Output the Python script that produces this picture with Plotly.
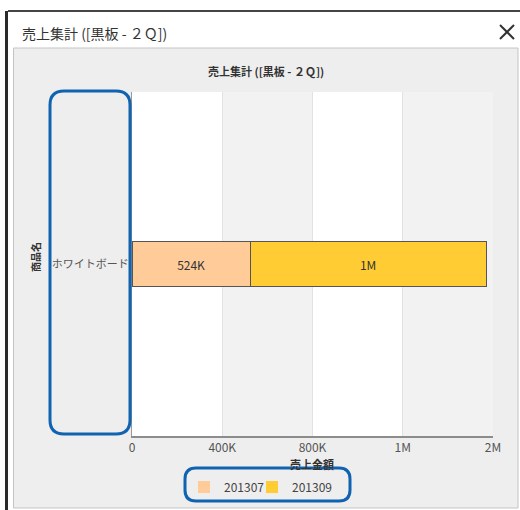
import plotly.graph_objects as go

# data
products = ["ホワイトボード"]
periods = ["201307", "201309"]
sales_201307 = [524000]
sales_201309 = [1045000]
x_tickvals = [0, 400000, 800000, 1200000, 1600000]
x_ticktext = ["0", "400K", "800K", "1M", "2M"]

TITLE = "売上集計 ([黒板 - ２Ｑ])"
FONT = "Noto Sans CJK JP, Noto Sans, sans-serif"
COLORS = {"201307": "#FFCC99", "201309": "#FFCC33"}
BLUE = "#1063B0"

W, H = 520, 510


def fx(x):
    return x / W


def fy(y):
    return 1 - y / H


def short(v):
    if v >= 1_000_000:
        return f"{v / 1_000_000:.0f}M"
    if v >= 1000:
        return f"{v / 1000:.0f}K"
    return str(v)


def rrect(x0, y0, x1, y1, r):
    pts = [
        ("M", [(x0 + r, y0)]),
        ("L", [(x1 - r, y0)]),
        ("Q", [(x1, y0), (x1, y0 + r)]),
        ("L", [(x1, y1 - r)]),
        ("Q", [(x1, y1), (x1 - r, y1)]),
        ("L", [(x0 + r, y1)]),
        ("Q", [(x0, y1), (x0, y1 - r)]),
        ("L", [(x0, y0 + r)]),
        ("Q", [(x0, y0), (x0 + r, y0)]),
    ]
    out = []
    for cmd, ps in pts:
        out.append(cmd + " ".join(f"{fx(a):.5f},{fy(b):.5f}" for a, b in ps))
    return " ".join(out) + " Z"


fig = go.Figure()
legend_ids = ["legend", "legend2"]
for name, vals, lg in zip(periods, [sales_201307, sales_201309], legend_ids):
    fig.add_trace(
        go.Bar(
            y=products,
            x=vals,
            orientation="h",
            name=name,
            width=0.128,
            marker={"color": COLORS[name], "line": {"color": "#555555", "width": 1}},
            text=[short(v) for v in vals],
            textposition="inside",
            insidetextanchor="middle",
            textfont={"color": "#333333", "size": 12},
            showlegend=False,
        )
    )
    # legend entries without outline
    fig.add_trace(
        go.Bar(y=[None], x=[None], orientation="h", name=name, legend=lg,
               marker={"color": COLORS[name], "line": {"width": 0}})
    )

shapes = [
    # page behind the dialog
    {"type": "rect", "xref": "paper", "yref": "paper", "x0": fx(5), "x1": fx(8),
     "y0": fy(510), "y1": fy(11), "fillcolor": "#2a2a2a", "line": {"width": 0}, "layer": "below"},
    {"type": "rect", "xref": "paper", "yref": "paper", "x0": fx(8), "x1": fx(520),
     "y0": fy(12), "y1": fy(10), "fillcolor": "#444444", "line": {"width": 0}, "layer": "below"},
    # content panel
    {"type": "rect", "xref": "paper", "yref": "paper", "x0": fx(13.5), "x1": fx(518),
     "y0": fy(508), "y1": fy(48), "fillcolor": "#EEEEEE",
     "line": {"color": "#C4C4C4", "width": 1}, "layer": "below"},
    # close button
    {"type": "line", "xref": "paper", "yref": "paper", "x0": fx(500), "y0": fy(25),
     "x1": fx(514), "y1": fy(39), "line": {"color": "#333333", "width": 2}},
    {"type": "line", "xref": "paper", "yref": "paper", "x0": fx(514), "y0": fy(25),
     "x1": fx(500), "y1": fy(39), "line": {"color": "#333333", "width": 2}},
]
# alternating bands between ticks
for i in range(len(x_tickvals) - 1):
    shapes.append({"type": "rect", "xref": "x", "yref": "y domain",
                   "x0": x_tickvals[i], "x1": x_tickvals[i + 1], "y0": 0, "y1": 1,
                   "fillcolor": "#F2F2F2" if i % 2 else "#FFFFFF",
                   "line": {"width": 0}, "layer": "below"})
# highlight boxes
for box in [(50, 91, 130, 434, 14), (185, 468, 350, 501, 11)]:
    shapes.append({"type": "path", "xref": "paper", "yref": "paper", "path": rrect(*box),
                   "line": {"color": BLUE, "width": 3}})

annotations = [
    {"text": TITLE, "x": fx(20), "y": fy(33), "xanchor": "left", "yanchor": "middle",
     "font": {"size": 14, "color": "#333333"}},
    {"text": f"<b>{TITLE}</b>", "x": fx(266), "y": fy(71), "xanchor": "center",
     "yanchor": "middle", "font": {"size": 11, "color": "#333333"}},
    {"text": "<b>売上金額</b>", "x": fx(312), "y": fy(464), "xanchor": "center",
     "yanchor": "middle", "font": {"size": 11, "color": "#333333"}},
    {"text": "<b>商品名</b>", "x": fx(35), "y": fy(257), "xanchor": "center",
     "yanchor": "middle", "textangle": -90, "font": {"size": 10, "color": "#333333"}},
]
for a in annotations:
    a.update({"xref": "paper", "yref": "paper", "showarrow": False})

legend_style = {"orientation": "h", "xanchor": "left", "yanchor": "middle", "y": fy(487),
                "bgcolor": "rgba(0,0,0,0)", "font": {"size": 12, "color": "#444444"},
                "itemwidth": 30}

fig.update_layout(
    width=W,
    height=H,
    margin={"l": 0, "r": 0, "t": 0, "b": 0, "autoexpand": False},
    paper_bgcolor="white",
    plot_bgcolor="white",
    barmode="stack",
    font={"family": FONT, "color": "#555555", "size": 12},
    shapes=shapes,
    annotations=annotations,
    legend={**legend_style, "x": fx(184)},
    legend2={**legend_style, "x": fx(252)},
    xaxis={"domain": [fx(132), fx(493)], "range": [0, 1600000], "tickvals": x_tickvals,
           "ticktext": x_ticktext, "showgrid": True, "gridcolor": "#E2E2E2", "zeroline": False,
           "showline": True, "linecolor": "#8C8C8C", "linewidth": 2, "ticks": "",
           "automargin": False,
           "tickfont": {"size": 12, "color": "#555555"}, "fixedrange": True},
    yaxis={"domain": [fy(436), fy(92)], "showgrid": False, "showline": True,
           "linecolor": "#999999", "linewidth": 1, "ticks": "", "automargin": False,
           "tickfont": {"size": 11, "color": "#555555"}, "fixedrange": True},
)

fig.write_html(
    "out.html",
    config={"displayModeBar": False},
    post_script=(
        "document.body.style.margin='0';"
        "document.body.style.overflow='hidden';"
        "document.documentElement.style.overflow='hidden';"
    ),
)
